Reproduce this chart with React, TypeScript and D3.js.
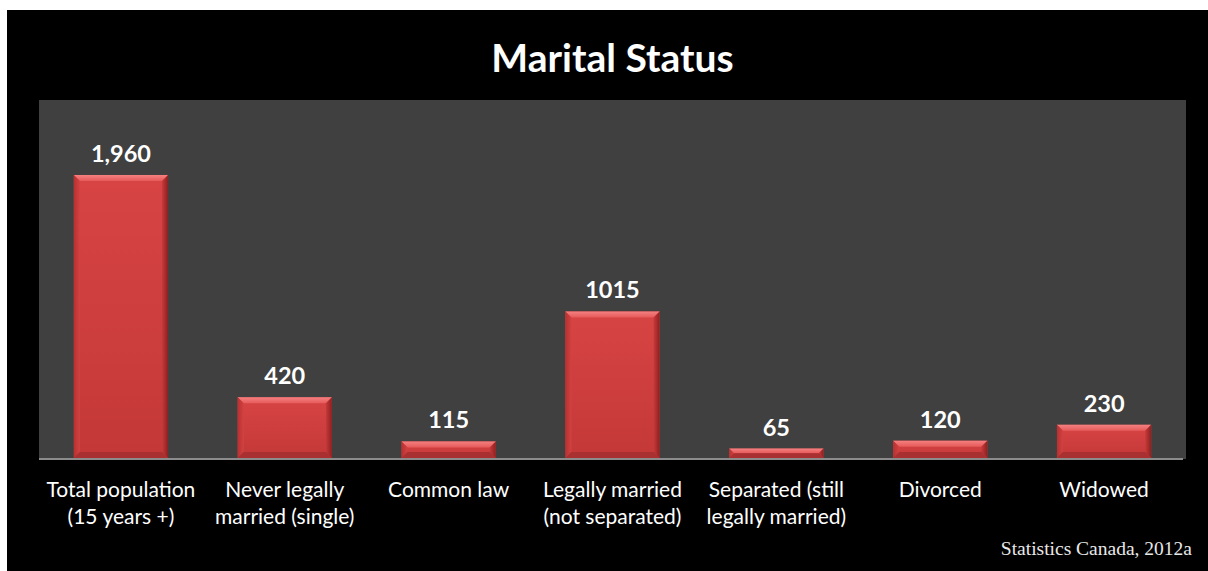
import React from "react";
import * as d3 from "d3";

const categories: string[][] = [
  ["Total population", "(15 years +)"],
  ["Never legally", "married (single)"],
  ["Common law"],
  ["Legally married", "(not separated)"],
  ["Separated (still", "legally married)"],
  ["Divorced"],
  ["Widowed"],
];
const values: number[] = [1960, 420, 115, 1015, 65, 120, 230];
const valueLabels: string[] = ["1,960", "420", "115", "1015", "65", "120", "230"];
const title = "Marital Status";
const source = "Statistics Canada, 2012a";

const W = 1208;
const H = 571;
const plot = { x0: 39, x1: 1186, y0: 100, y1: 458 };

export default function App() {
  const x = d3
    .scaleBand<number>()
    .domain(values.map((_, i) => i))
    .range([plot.x0, plot.x1])
    .paddingInner(0.425)
    .paddingOuter(0.2125);
  const y = d3.scaleLinear().domain([0, 2500]).range([plot.y1, plot.y1 - 2500 * 0.1444]);
  const font = "Lato, 'Open Sans', sans-serif";
  const bev = 6;

  return (
    <svg
      width={W}
      height={H}
      style={{ position: "absolute", left: 0, top: 0 }}
    >
      <defs>
        <linearGradient id="barMain" x1="0" y1="0" x2="0" y2="1">
          <stop offset="0" stopColor="#d84444" />
          <stop offset="1" stopColor="#c43838" />
        </linearGradient>
        <linearGradient id="bevTop" x1="0" y1="0" x2="0" y2="1">
          <stop offset="0" stopColor="#f58080" />
          <stop offset="1" stopColor="#e65a5a" />
        </linearGradient>
        <linearGradient id="bevLeft" x1="0" y1="0" x2="1" y2="0">
          <stop offset="0" stopColor="#b83030" />
          <stop offset="1" stopColor="#d24242" />
        </linearGradient>
        <linearGradient id="bevRight" x1="0" y1="0" x2="1" y2="0">
          <stop offset="0" stopColor="#c63a3a" />
          <stop offset="1" stopColor="#8e2020" />
        </linearGradient>
      </defs>
      <rect x={7} y={10} width={W - 7} height={H - 10} fill="#000" />
      <rect
        x={plot.x0}
        y={plot.y0}
        width={plot.x1 - plot.x0}
        height={plot.y1 - plot.y0 + 1}
        fill="#404040"
      />
      <text
        x={(plot.x0 + plot.x1) / 2}
        y={72}
        fill="#fff"
        fontFamily={font}
        fontWeight={700}
        fontSize={39}
        textAnchor="middle"
      >
        {title}
      </text>
      {values.map((v, i) => {
        const bx = x(i)!;
        const bw = x.bandwidth();
        const top = y(v);
        const bot = y(0);
        const h = bot - top;
        const b = Math.min(bev, h / 2);
        return (
          <g key={i}>
            <rect x={bx} y={top} width={bw} height={h} fill="url(#barMain)" />
            <polygon
              points={`${bx},${top} ${bx + bw},${top} ${bx + bw - b},${top + b} ${bx + b},${top + b}`}
              fill="url(#bevTop)"
            />
            <polygon
              points={`${bx},${top} ${bx + b},${top + b} ${bx + b},${bot - b} ${bx},${bot}`}
              fill="url(#bevLeft)"
            />
            <polygon
              points={`${bx + bw},${top} ${bx + bw - b},${top + b} ${bx + bw - b},${bot - b} ${bx + bw},${bot}`}
              fill="url(#bevRight)"
            />
            <polygon
              points={`${bx},${bot} ${bx + b},${bot - b} ${bx + bw - b},${bot - b} ${bx + bw},${bot}`}
              fill="#a83030"
            />
            <text
              x={bx + bw / 2}
              y={top - 13}
              fill="#fff"
              fontFamily={font}
              fontWeight={700}
              fontSize={23.5}
              textAnchor="middle"
            >
              {valueLabels[i]}
            </text>
            {categories[i].map((line, j) => (
              <text
                key={j}
                x={bx + bw / 2}
                y={497 + j * 27}
                fill="#fff"
                fontFamily={font}
                fontSize={21}
                textAnchor="middle"
              >
                {line}
              </text>
            ))}
          </g>
        );
      })}
      <line
        x1={plot.x0}
        x2={1183}
        y1={459}
        y2={459}
        stroke="#8c8c8c"
        strokeWidth={2}
      />
      <text
        x={1192}
        y={555}
        fill="#e8e8e8"
        fontFamily="'Liberation Serif', 'DejaVu Serif', serif"
        fontSize={19.5}
        textAnchor="end"
      >
        {source}
      </text>
    </svg>
  );
}
